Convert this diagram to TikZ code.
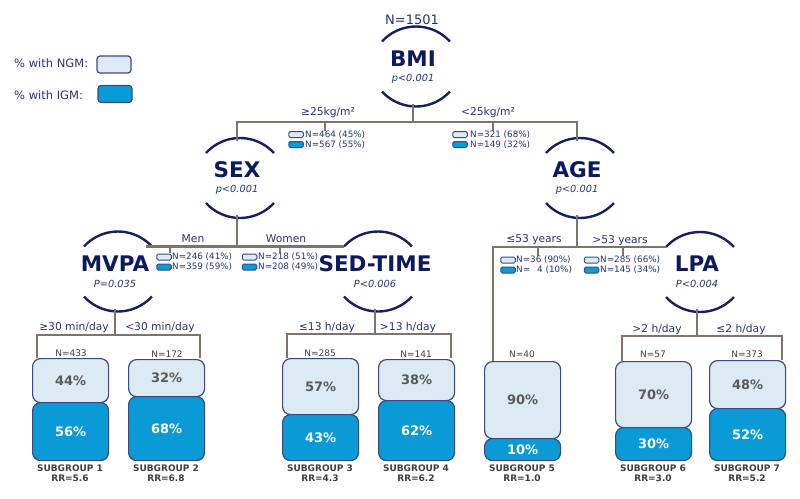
\documentclass[tikz,border=0pt]{standalone}
\usepackage{fontspec}
\setmainfont{DejaVu Sans}
\definecolor{navy}{HTML}{0E1A5E}
\definecolor{arcc}{HTML}{142060}
\definecolor{linec}{HTML}{7D746B}
\definecolor{labc}{HTML}{263573}
\definecolor{bord}{HTML}{3A4A85}
\definecolor{lightf}{HTML}{DCEBF3}
\definecolor{darkf}{HTML}{0A9AD6}
\definecolor{pctgray}{HTML}{5A5A5A}
\definecolor{sgc}{HTML}{3F3F3F}
\newcommand{\mysplit}[5]{%
  \node[title] (#1) at (#2,-#3) {#4};
  \node[ptext] (#1p) at (#2,-#3-20) {#5};
  \coordinate (#1top) at (#2,-#3+29);
  \coordinate (#1bot) at (#2,-#3-45);
  \coordinate (#1tl) at (#2-31,-#3+17);
  \coordinate (#1tr) at (#2+31,-#3+17);
  \coordinate (#1bl) at (#2-31,-#3-33);
  \coordinate (#1br) at (#2+31,-#3-33);
  \draw[arcline] (#1tl) arc[start angle=137.6, end angle=42.4, radius=46pt];
  \draw[arcline] (#1bl) arc[start angle=222.4, end angle=317.6, radius=46pt];
}
\begin{document}
\begin{tikzpicture}[x=1pt,y=1pt,
  title/.style={font=\fontsize{21.5}{21.5}\selectfont\bfseries, text=navy, inner sep=0},
  ptext/.style={font=\fontsize{9.8}{10}\selectfont\itshape, text=labc, inner sep=0},
  arcline/.style={draw=arcc, line width=2.4pt},
  branch/.style={draw=linec, line width=2.3pt},
  tickline/.style={draw=linec, line width=1.1pt},
  blabel/.style={font=\fontsize{10.7}{11}\selectfont, text=labc, inner sep=0},
  mini/.style={font=\fontsize{8.8}{9}\selectfont, text=labc, inner sep=0, anchor=west},
  minilight/.style={draw=bord, fill=lightf, line width=1pt, rounded corners=1.5pt, minimum width=14.5pt, minimum height=6pt, inner sep=0},
  minidark/.style={minilight, fill=darkf},
  leglight/.style={draw=bord, fill=lightf, line width=1.2pt, rounded corners=3pt, minimum width=34pt, minimum height=17pt, inner sep=0},
  legdark/.style={leglight, fill=darkf},
  legtext/.style={font=\fontsize{11.5}{12}\selectfont, text=labc, inner sep=0, anchor=west},
  lightbox/.style={draw=bord, fill=lightf, line width=1.2pt, rounded corners=8pt, minimum width=76pt, inner sep=0, anchor=north west, text=pctgray, font=\fontsize{13}{13}\selectfont\bfseries},
  darkbox/.style={lightbox, fill=darkf, text=white},
  nlabel/.style={font=\fontsize{9}{9}\selectfont, text=sgc, inner sep=0},
  sglabel/.style={font=\fontsize{9}{10}\selectfont\bfseries, text=sgc, align=center, inner sep=0},
]
\useasboundingbox (0,0) rectangle (800,-498);
\fill[white] (0,0) rectangle (800,-498);

% legend
\node[legtext] (lg1) at (14,-63) {\% with NGM:};
\node[leglight] (lg1b) at (114,-64.5) {};
\node[legtext] (lg2) at (14,-95) {\% with IGM:};
\node[legdark] (lg2b) at (115,-94) {};

% split nodes
\node[font=\fontsize{13}{13}\selectfont, text=labc, inner sep=0] (ntot) at (412,-20) {N=1501};
\mysplit{bmi}{413}{58.5}{BMI}{p<0.001}
\mysplit{sex}{237}{170}{SEX}{p<0.001}
\mysplit{age}{577}{170}{AGE}{p<0.001}
\mysplit{mvpa}{115}{263.5}{MVPA}{P=0.035}
\mysplit{sed}{375}{263.5}{SED-TIME}{P<0.006}
\mysplit{lpa}{697}{264}{LPA}{P<0.004}

% junctions
\coordinate (bmij) at (413,-122);
\coordinate (mvpaj) at (115,-335);
\coordinate (sedj) at (375,-334);
\coordinate (lpaj) at (697,-336);
\coordinate (sg1t) at (37,-358);
\coordinate (sg2t) at (200,-358);
\coordinate (sg3t) at (287,-358);
\coordinate (sg4t) at (451,-358);
\coordinate (sg5t) at (493,-361);
\coordinate (sg6t) at (622,-361);
\coordinate (sg7t) at (782,-360);

% branches
\draw[branch] (bmibot) -- (bmij);
\draw[branch] (sextop) -- (sextop |- bmij) -- (agetop |- bmij) -- (agetop);
\draw[branch] (sexbot) -- (sexbot |- mvpatr);
\draw[branch] (mvpatr) -- (sedtl);
\draw[branch] (agebot) -- (agebot |- lpatl);
\draw[branch] (lpatl) -- (sg5t |- lpatl) -- (sg5t);
\draw[branch] (mvpabot) -- (mvpaj);
\draw[branch] (sg1t) -- (sg1t |- mvpaj) -- (sg2t |- mvpaj) -- (sg2t);
\draw[branch] (sedbot) -- (sedj);
\draw[branch] (sg3t) -- (sg3t |- sedj) -- (sg4t |- sedj) -- (sg4t);
\draw[branch] (lpabot) -- (lpaj);
\draw[branch] (sg6t) -- (sg6t |- lpaj) -- (sg7t |- lpaj) -- (sg7t);

% ticks
\coordinate (tk1) at (325,-131);
\coordinate (tk2) at (493,-131);
\coordinate (tk3) at (170,-253);
\coordinate (tk4) at (280,-253);
\coordinate (tk5) at (538,-256);
\coordinate (tk6) at (623,-256);
\draw[tickline] (tk1 |- bmij) -- (tk1);
\draw[tickline] (tk2 |- bmij) -- (tk2);
\draw[tickline] (tk3 |- mvpatr) -- (tk3);
\draw[tickline] (tk4 |- mvpatr) -- (tk4);
\draw[tickline] (tk5 |- lpatl) -- (tk5);
\draw[tickline] (tk6 |- lpatl) -- (tk6);

% branch labels
\node[blabel] (b1) at (328,-113) {≥25kg/m²};
\node[blabel] (b2) at (488,-113) {<25kg/m²};
\node[blabel] (b3) at (193,-239) {Men};
\node[blabel] (b4) at (286,-239) {Women};
\node[blabel] (b5) at (534,-240) {≤53 years};
\node[blabel] (b6) at (620,-241) {>53 years};
\node[blabel] (b7) at (74,-328) {≥30 min/day};
\node[blabel] (b8) at (160,-328) {<30 min/day};
\node[blabel] (b9) at (327,-328) {≤13 h/day};
\node[blabel] (b10) at (408,-328) {>13 h/day};
\node[blabel] (b11) at (657,-330) {>2 h/day};
\node[blabel] (b12) at (741,-330) {≤2 h/day};

% mini legends
\node[minilight] (m1a) at (296,-134.5) {};
\node[minidark] (m1b) at (296,-144.5) {};
\node[mini] (m1at) at (305,-134.5) {N=464 (45\%)};
\node[mini] (m1bt) at (305,-144.5) {N=567 (55\%)};
\node[minilight] (m2a) at (460,-134.5) {};
\node[minidark] (m2b) at (460,-144.5) {};
\node[mini] (m2at) at (470,-134.5) {N=321 (68\%)};
\node[mini] (m2bt) at (470,-144.5) {N=149 (32\%)};
\node[minilight] (m3a) at (164,-257) {};
\node[minidark] (m3b) at (164,-267) {};
\node[mini] (m3at) at (172,-257) {N=246 (41\%)};
\node[mini] (m3bt) at (172,-267) {N=359 (59\%)};
\node[minilight] (m4a) at (249.5,-257) {};
\node[minidark] (m4b) at (249.5,-267) {};
\node[mini] (m4at) at (258,-257) {N=218 (51\%)};
\node[mini] (m4bt) at (258,-267) {N=208 (49\%)};
\node[minilight] (m5a) at (508,-260) {};
\node[minidark] (m5b) at (508,-270) {};
\node[mini] (m5at) at (516,-260) {N=36 (90\%)};
\node[mini] (m5bt) at (516,-270) {N=\hphantom{3}\,4 (10\%)};
\node[minilight] (m6a) at (591.5,-260) {};
\node[minidark] (m6b) at (591.5,-270) {};
\node[mini] (m6at) at (600,-260) {N=285 (66\%)};
\node[mini] (m6bt) at (600,-270) {N=145 (34\%)};

% subgroup boxes
\node[lightbox, minimum height=44pt] (sg1a) at (32,-358) {44\%};
\node[darkbox, minimum height=58pt] (sg1b) at (32,-402) {56\%};
\node[lightbox, minimum height=37pt] (sg2a) at (128,-359) {32\%};
\node[darkbox, minimum height=64pt] (sg2b) at (128,-396) {68\%};
\node[lightbox, minimum height=56pt] (sg3a) at (282,-358) {57\%};
\node[darkbox, minimum height=46pt] (sg3b) at (282,-414) {43\%};
\node[lightbox, minimum height=41pt] (sg4a) at (378,-359) {38\%};
\node[darkbox, minimum height=60pt] (sg4b) at (378,-400) {62\%};
\node[lightbox, minimum height=77pt] (sg5a) at (484,-361) {90\%};
\node[darkbox, minimum height=22pt] (sg5b) at (484,-438) {10\%};
\node[lightbox, minimum height=66pt] (sg6a) at (615,-361) {70\%};
\node[darkbox, minimum height=33pt] (sg6b) at (615,-427) {30\%};
\node[lightbox, minimum height=48pt] (sg7a) at (709,-360) {48\%};
\node[darkbox, minimum height=52pt] (sg7b) at (709,-408) {52\%};

% N labels
\node[nlabel] (n1) at (71,-353) {N=433};
\node[nlabel] (n2) at (167,-354) {N=172};
\node[nlabel] (n3) at (320,-353) {N=285};
\node[nlabel] (n4) at (416,-354) {N=141};
\node[nlabel] (n5) at (522,-354) {N=40};
\node[nlabel] (n6) at (653,-354) {N=57};
\node[nlabel] (n7) at (747,-354) {N=373};

% subgroup labels
\node[sglabel] (l1) at (70,-473) {SUBGROUP 1\\RR=5.6};
\node[sglabel] (l2) at (166,-473) {SUBGROUP 2\\RR=6.8};
\node[sglabel] (l3) at (320,-473) {SUBGROUP 3\\RR=4.3};
\node[sglabel] (l4) at (416,-473) {SUBGROUP 4\\RR=6.2};
\node[sglabel] (l5) at (522,-473) {SUBGROUP 5\\RR=1.0};
\node[sglabel] (l6) at (653,-473) {SUBGROUP 6\\RR=3.0};
\node[sglabel] (l7) at (747,-473) {SUBGROUP 7\\RR=5.2};
\end{tikzpicture}
\end{document}
